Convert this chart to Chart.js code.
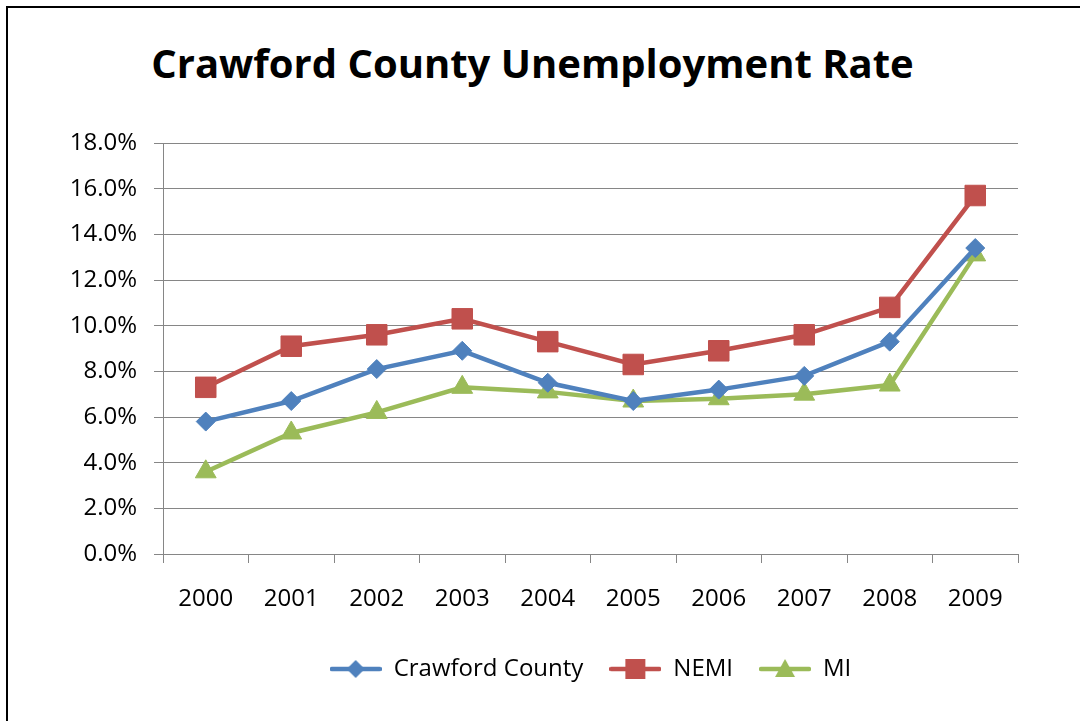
<!DOCTYPE html>
<html lang="en">
<head>
    <meta charset="UTF-8">
    <title>Crawford County Unemployment Rate</title>
    <script src="https://cdn.jsdelivr.net/npm/chart.js"></script>
    <style>
        body {
            margin: 0;
            background: #fff;
            width: 1080px;
            height: 721px;
            overflow: hidden;
            position: relative;
        }

        .frame {
            position: absolute;
            left: 6px;
            top: 6px;
            width: 1200px;
            height: 900px;
            border: 2px solid #000;
        }

        h1 {
            position: absolute;
            left: 0;
            width: 1065px;
            top: 36px;
            margin: 0;
            text-align: center;
            font-family: "Open Sans", sans-serif;
            font-weight: 700;
            font-size: 40px;
            line-height: 54px;
            color: #000;
        }

        .chart-box {
            position: absolute;
            left: 0;
            top: 0;
            width: 1080px;
            height: 721px;
        }
    </style>
</head>
<body>
    <div class="frame"></div>
    <h1>Crawford County Unemployment Rate</h1>
    <div class="chart-box">
        <canvas id="rateChart" width="1080" height="721"></canvas>
    </div>

    <script>
        // values (percent)
        const years = ['2000', '2001', '2002', '2003', '2004', '2005', '2006', '2007', '2008', '2009'];
        const crawford = [5.8, 6.7, 8.1, 8.9, 7.5, 6.7, 7.2, 7.8, 9.3, 13.4];
        const nemi = [7.3, 9.1, 9.6, 10.3, 9.3, 8.3, 8.9, 9.6, 10.8, 15.7];
        const mi = [3.6, 5.3, 6.2, 7.3, 7.1, 6.7, 6.8, 7.0, 7.4, 13.1];

        const fontName = '"Open Sans", sans-serif';

        // small line + marker pictures for the legend
        function legendIcon(color, shape) {
            const c = document.createElement('canvas');
            c.width = 52;
            c.height = 24;
            const g = c.getContext('2d');
            g.strokeStyle = color;
            g.fillStyle = color;
            g.lineWidth = 4.5;
            g.lineCap = 'round';
            g.beginPath();
            g.moveTo(2, 12);
            g.lineTo(50, 12);
            g.stroke();
            g.beginPath();
            if (shape === 'diamond') {
                g.moveTo(26, 3); g.lineTo(35, 12); g.lineTo(26, 21); g.lineTo(17, 12);
            } else if (shape === 'square') {
                g.rect(16, 2, 20, 20);
            } else {
                g.moveTo(26, 2); g.lineTo(36, 20); g.lineTo(16, 20);
            }
            g.closePath();
            g.fill();
            return c;
        }

        const series = [
            { label: 'Crawford County', data: crawford, color: '#4F81BD', style: 'rectRot', radius: 9.5, icon: 'diamond' },
            { label: 'NEMI', data: nemi, color: '#C0504D', style: 'rect', radius: 14.5, icon: 'square' },
            { label: 'MI', data: mi, color: '#9BBB59', style: 'triangle', radius: 12, icon: 'triangle' }
        ];

        const icons = series.map(s => legendIcon(s.color, s.icon));

        const datasets = series.map(s => ({
            label: s.label,
            data: s.data,
            borderColor: s.color,
            backgroundColor: s.color,
            borderWidth: 4.5,
            pointStyle: s.style,
            pointRadius: s.radius,
            pointHoverRadius: s.radius,
            pointBorderWidth: 1,
            pointBorderColor: s.color,
            pointBackgroundColor: s.color,
            tension: 0
        }));

        const ctx = document.getElementById('rateChart').getContext('2d');
        new Chart(ctx, {
            type: 'line',
            data: {
                labels: years,
                datasets: datasets
            },
            options: {
                responsive: false,
                animation: false,
                layout: {
                    padding: { left: 0, right: 62, top: 143, bottom: 30 }
                },
                scales: {
                    x: {
                        offset: true,
                        grid: {
                            offset: true,
                            drawOnChartArea: false,
                            drawTicks: true,
                            tickLength: 9,
                            color: '#868686'
                        },
                        border: { color: '#868686', width: 1 },
                        ticks: {
                            padding: 22,
                            color: '#000',
                            font: { family: fontName, size: 24 }
                        },
                        afterFit: scale => { scale.height = 77; }
                    },
                    y: {
                        min: 0,
                        max: 18,
                        grid: {
                            color: '#868686',
                            tickLength: 9
                        },
                        border: { color: '#868686', width: 1 },
                        ticks: {
                            stepSize: 2,
                            padding: 17,
                            color: '#000',
                            font: { family: fontName, size: 24 },
                            callback: v => v.toFixed(1) + '%'
                        },
                        afterFit: scale => { scale.width = 163; }
                    }
                },
                plugins: {
                    title: { display: false },
                    tooltip: { enabled: false },
                    legend: {
                        position: 'bottom',
                        fullSize: false,
                        labels: {
                            usePointStyle: true,
                            pointStyleWidth: 52,
                            padding: 26,
                            color: '#000',
                            font: { family: fontName, size: 24 },
                            generateLabels: chart => {
                                const items = Chart.defaults.plugins.legend.labels.generateLabels(chart);
                                items.forEach((it, i) => { it.pointStyle = icons[i]; });
                                return items;
                            }
                        }
                    }
                }
            }
        });
    </script>
</body>
</html>
